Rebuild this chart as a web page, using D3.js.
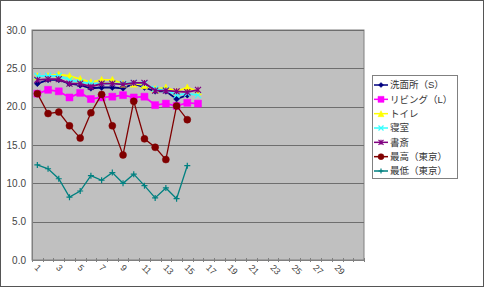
<!DOCTYPE html>
<html><head><meta charset="utf-8">
<script src="https://cdn.jsdelivr.net/npm/d3@7"></script>
<style>body{margin:0;background:#fff;} text{font-family:Arial,"Liberation Sans","Noto Sans CJK JP",sans-serif;}</style>
</head><body>
<svg id="c" width="484" height="287"></svg>
<script>
const days = d3.range(1, 32);
const yTicks = [0, 5, 10, 15, 20, 25, 30];
const seriesNames = ["洗面所（S）", "リビング（L）", "トイレ", "寝室", "書斎", "最高（東京）", "最低（東京）"];
const senmen  = [23.0, 23.5, 23.5, 23.0, 22.8, 22.4, 22.5, 22.5, 22.4, 23.0, 22.5, 22.0, 22.0, 21.0, 21.5];
const living  = [21.7, 22.2, 22.0, 21.2, 21.8, 21.0, 21.2, 21.3, 21.5, 21.2, 21.3, 20.2, 20.4, 20.1, 20.5, 20.4];
const toilet  = [24.0, 24.0, 24.2, 24.0, 23.6, 23.2, 23.5, 23.5, 23.0, 23.0, 22.8, 22.3, 22.5, 22.0, 22.5, 22.0];
const shinshitsu = [24.0, 24.0, 24.0, 23.5, 23.2, 23.0, 23.0, 23.0, 23.0, 23.1, 23.0, 22.3, 22.2, 21.5, 21.7, 21.5];
const shosai  = [23.5, 23.6, 23.6, 23.0, 23.0, 22.6, 23.0, 23.0, 22.9, 23.1, 23.1, 22.1, 22.1, 22.0, 21.9, 22.2];
const maxTokyo = [21.7, 19.1, 19.3, 17.5, 15.9, 19.2, 21.6, 17.5, 13.7, 20.7, 15.8, 14.7, 13.1, 20.1, 18.3];
const minTokyo = [12.4, 11.9, 10.6, 8.2, 9.0, 11.0, 10.4, 11.4, 10.0, 11.2, 9.7, 8.1, 9.4, 8.0, 12.3];

const seriesData = [senmen, living, toilet, shinshitsu, shosai, maxTokyo, minTokyo];
const colors = ["#000080", "#FF00FF", "#FFFF00", "#33FFFF", "#800080", "#800000", "#008080"];
const markers = ["diamond", "square", "triangle", "x", "star", "circle", "plus"];

const svg = d3.select("#c");
svg.append("rect").attr("x",0.5).attr("y",0.5).attr("width",483).attr("height",286)
  .attr("fill","#fff").attr("stroke","#555").attr("stroke-width",1);

const L = 32, R = 364, T = 30, B = 260;
const x = d3.scaleBand().domain(days).range([L, R]);
const y = d3.scaleLinear().domain([0, 30]).range([B, T]);

svg.append("rect").attr("x",L).attr("y",T).attr("width",R-L).attr("height",B-T)
  .attr("fill","#C0C0C0").attr("stroke","#808080");

svg.append("g").selectAll("line").data(yTicks.filter(d=>d>0)).join("line")
  .attr("x1",L).attr("x2",R).attr("y1",d=>Math.round(y(d))+0.5).attr("y2",d=>Math.round(y(d))+0.5)
  .attr("stroke","#6e6e6e").attr("stroke-width",1);

const ya = svg.append("g").attr("transform",`translate(${L},0)`)
  .call(d3.axisLeft(y).tickValues(yTicks).tickFormat(d3.format(".1f")).tickSize(0).tickPadding(6));
ya.select(".domain").attr("stroke","#808080");
ya.selectAll("text").attr("font-size",10).attr("fill","#444");

const xa = svg.append("g").attr("transform",`translate(0,${B})`)
  .call(d3.axisBottom(x).tickFormat(d => d % 2 === 1 && d < 31 ? d : "").tickSize(0));
xa.select(".domain").attr("stroke","#808080");
xa.selectAll("text").attr("font-size",9).attr("fill","#444")
  .attr("text-anchor","start")
  .attr("transform","translate(-1,6) rotate(45)").attr("dy","0.35em").attr("y",0).attr("x",0);
svg.append("g").selectAll("line").data(days.concat([32])).join("line")
  .attr("x1",d=>Math.round(d<=31 ? x(d) : R)+0.5).attr("x2",d=>Math.round(d<=31 ? x(d) : R)+0.5)
  .attr("y1",B-2).attr("y2",B+2).attr("stroke","#808080");

function markerPath(type, s){
  const h = s/2;
  switch(type){
    case "diamond": return `M0,${-h}L${h},0L0,${h}L${-h},0Z`;
    case "square": return `M${-h},${-h}H${h}V${h}H${-h}Z`;
    case "triangle": return `M0,${-h}L${h},${h}L${-h},${h}Z`;
    case "x": return `M${-h},${-h}L${h},${h}M${-h},${h}L${h},${-h}`;
    case "star": return `M${-h},${-h}L${h},${h}M${-h},${h}L${h},${-h}M0,${-h}V${h}`;
    case "plus": return `M${-h},0H${h}M0,${-h}V${h}`;
    case "circle": return `M${h},0A${h},${h} 0 1 1 ${-h},0A${h},${h} 0 1 1 ${h},0Z`;
  }
}
const filled = {diamond:true, square:true, triangle:true, circle:true};
const msize = {diamond:6, square:7, triangle:7, x:6, star:6, plus:6, circle:7};

const line = d3.line().defined(d=>d!=null).x((d,i)=>x(days[i])+x.bandwidth()/2).y(d=>y(d));

seriesData.forEach((vals, si) => {
  const g = svg.append("g");
  g.append("path").attr("d", line(vals)).attr("fill","none")
    .attr("stroke", colors[si]).attr("stroke-width", si>=5 ? 1.3 : 1.8);
  g.selectAll("path.m").data(vals.map((v,i)=>({v,i})).filter(d=>d.v!=null)).join("path")
    .attr("class","m")
    .attr("transform", d=>`translate(${x(days[d.i])+x.bandwidth()/2},${y(d.v)})`)
    .attr("d", markerPath(markers[si], msize[markers[si]]))
    .attr("fill", filled[markers[si]] ? colors[si] : "none")
    .attr("stroke", colors[si]).attr("stroke-width", filled[markers[si]] ? 0.5 : 1.2);
});

const lg = svg.append("g");
lg.append("rect").attr("x",372.5).attr("y",75.5).attr("width",85).attr("height",103)
  .attr("fill","#fff").attr("stroke","#808080");
const ly = d3.scalePoint().domain(seriesNames).range([85, 171]);
seriesNames.forEach((n, si) => {
  const yy = ly(n);
  lg.append("line").attr("x1",374).attr("x2",388).attr("y1",yy).attr("y2",yy)
    .attr("stroke",colors[si]).attr("stroke-width",1.5);
  lg.append("path").attr("transform",`translate(381,${yy})`)
    .attr("d", markerPath(markers[si], msize[markers[si]]-1))
    .attr("fill", filled[markers[si]] ? colors[si] : "none")
    .attr("stroke", colors[si]).attr("stroke-width", filled[markers[si]] ? 0.5 : 1.2);
  lg.append("text").attr("x",390).attr("y",yy).attr("dy","0.35em")
    .attr("font-size",9.5).attr("fill","#333").attr("font-family","'Noto Sans CJK JP',sans-serif").text(n);
});
</script>
</body></html>
